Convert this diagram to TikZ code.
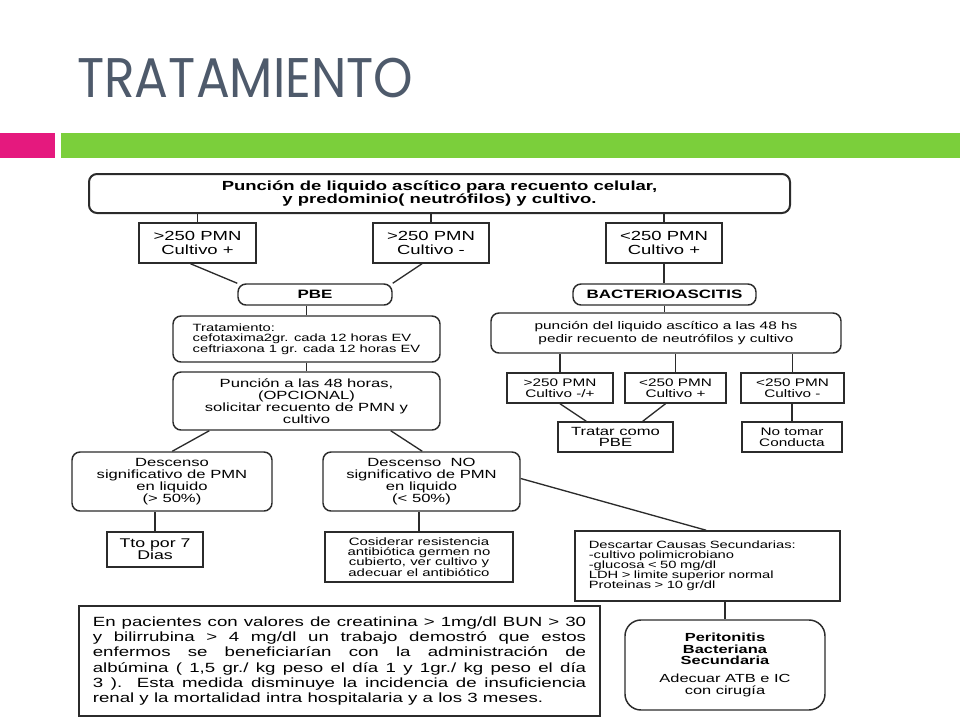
\documentclass[tikz,border=0pt]{standalone}
\usepackage{fontspec}
\usetikzlibrary{calc}
\setmainfont{Liberation Sans}
\newfontfamily\flowsans[FakeStretch=1.4]{Liberation Sans}
\newfontfamily\titlesans{Poppins}
\definecolor{titlegray}{HTML}{4E5A6B}
\definecolor{barpink}{HTML}{E5197E}
\definecolor{bargreen}{HTML}{7BCF3B}
\definecolor{linegray}{HTML}{2B2B2B}
\newcommand{\flowfont}[2]{\flowsans\fontsize{#1}{#2}\selectfont}

\tikzset{
  rbox/.style={draw=linegray, line width=1.1bp, rounded corners=6bp, inner sep=0pt, align=center},
  sbox/.style={draw=linegray, line width=1.1bp, inner sep=0pt, align=center},
  boxsize/.style 2 args={minimum width=#1*0.75bp, minimum height=#2*0.75bp},
  link/.style={draw=linegray, line width=1bp},
}

\begin{document}
\begin{tikzpicture}[x=0.75bp, y=-0.75bp]
    \useasboundingbox (0,0) rectangle (960,720);
    % title and bars
    \node[anchor=base west, inner sep=0pt, text=titlegray] (title) at (77,97) {\resizebox{252bp}{29.5bp}{\titlesans TRATAMIENTO}};
    \fill[barpink] (0,133) rectangle (55,158);
    \fill[bargreen] (61,133) rectangle (960,158);
    % first level
    \node[rbox, line width=1.5bp, boxsize={701}{39}, font=\flowfont{9.9bp}{9.75bp}\bfseries] (top) at (439.5,193.5) {Punción de liquido ascítico para recuento celular,\\ y predominio( neutrófilos) y cultivo.};
    \node[sbox, boxsize={117}{40}, font=\flowfont{9.9bp}{10.5bp}] (c1) at (197.5,243) {>250 PMN\\ Cultivo +};
    \node[sbox, boxsize={116}{40}, font=\flowfont{9.9bp}{10.5bp}] (c2) at (431,243) {>250 PMN\\ Cultivo -};
    \node[sbox, boxsize={116}{40}, font=\flowfont{9.9bp}{10.5bp}] (c3) at (664,243) {<250 PMN\\ Cultivo +};
    \node[rbox, boxsize={154}{21}, font=\flowfont{9.1bp}{9bp}\bfseries] (pbe) at (315,294.5) {PBE};
    \node[rbox, boxsize={183}{21}, font=\flowfont{9.1bp}{9bp}\bfseries] (bact) at (664.5,294.5) {BACTERIOASCITIS};
    % left branch
    \node[rbox, align=left, boxsize={267}{46}, font=\flowfont{7.9bp}{8bp}] (trat) at (306.5,339) {Tratamiento:\\ cefotaxima2gr. cada 12 horas EV\\ ceftriaxona 1 gr. cada 12 horas EV};
    \node[rbox, boxsize={267}{58}, font=\flowfont{8.9bp}{9bp}] (punc) at (306.5,401) {Punción a las 48 horas,\\ (OPCIONAL)\\ solicitar recuento de PMN y\\ cultivo};
    \node[rbox, boxsize={200}{59}, font=\flowfont{8.9bp}{9bp}] (desc1) at (172,481.5) {Descenso\\ significativo de PMN\\ en liquido\\ (> 50\%)};
    \node[rbox, boxsize={197}{59}, font=\flowfont{8.9bp}{9bp}] (desc2) at (421.5,481.5) {Descenso~ NO\\ significativo de PMN\\ en liquido\\ (< 50\%)};
    \node[sbox, boxsize={96}{35}, font=\flowfont{9.5bp}{9bp}] (tto) at (155,549.5) {Tto por 7\\ Dias};
    \node[sbox, boxsize={188}{50}, font=\flowfont{8bp}{7.6bp}] (cos) at (419,557) {Cosiderar resistencia\\ antibiótica germen no\\ cubierto, ver cultivo y\\ adecuar el antibiótico};
    % right branch
    \node[rbox, boxsize={350}{40}, font=\flowfont{8.25bp}{9.75bp}] (rpunc) at (666,333) {punción del liquido ascítico a las 48 hs\\ pedir recuento de neutrófilos y cultivo};
    \node[sbox, boxsize={106}{30}, font=\flowfont{8.2bp}{8.6bp}] (r1) at (560,388) {>250 PMN\\ Cultivo -/+};
    \node[sbox, boxsize={101}{30}, font=\flowfont{8.2bp}{8.6bp}] (r2) at (675.5,388) {<250 PMN\\ Cultivo +};
    \node[sbox, boxsize={103}{30}, font=\flowfont{8.2bp}{8.6bp}] (r3) at (792.5,388) {<250 PMN\\ Cultivo -};
    \node[sbox, boxsize={115}{30}, font=\flowfont{8.9bp}{8.4bp}] (tratar) at (615.5,437) {Tratar como\\ PBE};
    \node[sbox, boxsize={100}{30}, font=\flowfont{8.2bp}{8.4bp}] (notomar) at (792,437) {No tomar\\ Conducta};
    \node[sbox, align=left, text width=178bp, boxsize={265}{70}, font=\flowfont{7.9bp}{7.5bp}] (descart) at (707.5,566) {Descartar Causas Secundarias:\\ -cultivo polimicrobiano\\ -glucosa < 50 mg/dl\\ LDH > limite superior normal\\ Proteinas > 10 gr/dl};
    \node[rbox, rounded corners=12bp, boxsize={200}{90}, font=\flowfont{8.8bp}{8.6bp}] (perit) at (725,665) {\textbf{Peritonitis}\\ \textbf{Bacteriana}\\ \textbf{Secundaria}\\[5bp] Adecuar ATB e IC\\ con cirugía};
    % note
    \node[sbox, align=justify, text width=370bp, boxsize={521}{110}, font=\flowfont{10bp}{11.4bp}] (alb) at (339.5,661) {En pacientes con valores de creatinina > 1mg/dl BUN > 30\linebreak
      y bilirrubina > 4 mg/dl un trabajo demostró que estos\linebreak
      enfermos se beneficiarían con la administración de\linebreak
      albúmina ( 1,5 gr./ kg peso el día 1 y 1gr./ kg peso el día\linebreak
      3 ). Esta medida disminuye la incidencia de insuficiencia\linebreak
      renal y la mortalidad intra hospitalaria y a los 3 meses.\par\vspace{6bp}};
    % links
    \draw[link] (c1.north) -- (c1.north |- top.south);
    \draw[link] (c2.north) -- (c2.north |- top.south);
    \draw[link] (c3.north) -- (c3.north |- top.south);
    \draw[link] ($(c1.south)+(-7,0)$) -- (pbe.north west);
    \draw[link] ($(c2.south)+(-9,0)$) -- (pbe.north east);
    \draw[link] (c3.south) -- (c3.south |- bact.north);
    \draw[link] (trat.north) -- (trat.north |- pbe.south);
    \draw[link] (trat.south) -- (punc.north);
    \draw[link] ($(punc.south west)+(37,0)$) -- ($(desc1.north west)+(101,0)$);
    \draw[link] ($(punc.south east)+(-50,0)$) -- ($(desc2.north west)+(100,0)$);
    \draw[link] (tto.north) -- (tto.north |- desc1.south);
    \draw[link] (cos.north) -- (cos.north |- desc2.south);
    \draw[link] ($(desc2.east)+(0,-3)$) -- ($(descart.north west)+(132,0)$);
    \draw[link] (perit.north) -- (perit.north |- descart.south);
    \draw[link] (bact.south) -- (bact.south |- rpunc.north);
    \draw[link] (r1.north) -- (r1.north |- rpunc.south);
    \draw[link] (r2.north) -- (r2.north |- rpunc.south);
    \draw[link] (r3.north) -- (r3.north |- rpunc.south);
    \draw[link] (r1.south) -- ($(tratar.north west)+(29,0)$);
    \draw[link] ($(r2.south)+(-10,0)$) -- ($(tratar.north east)+(-31,0)$);
    \draw[link] (notomar.north) -- (notomar.north |- r3.south);
\end{tikzpicture}
\end{document}
